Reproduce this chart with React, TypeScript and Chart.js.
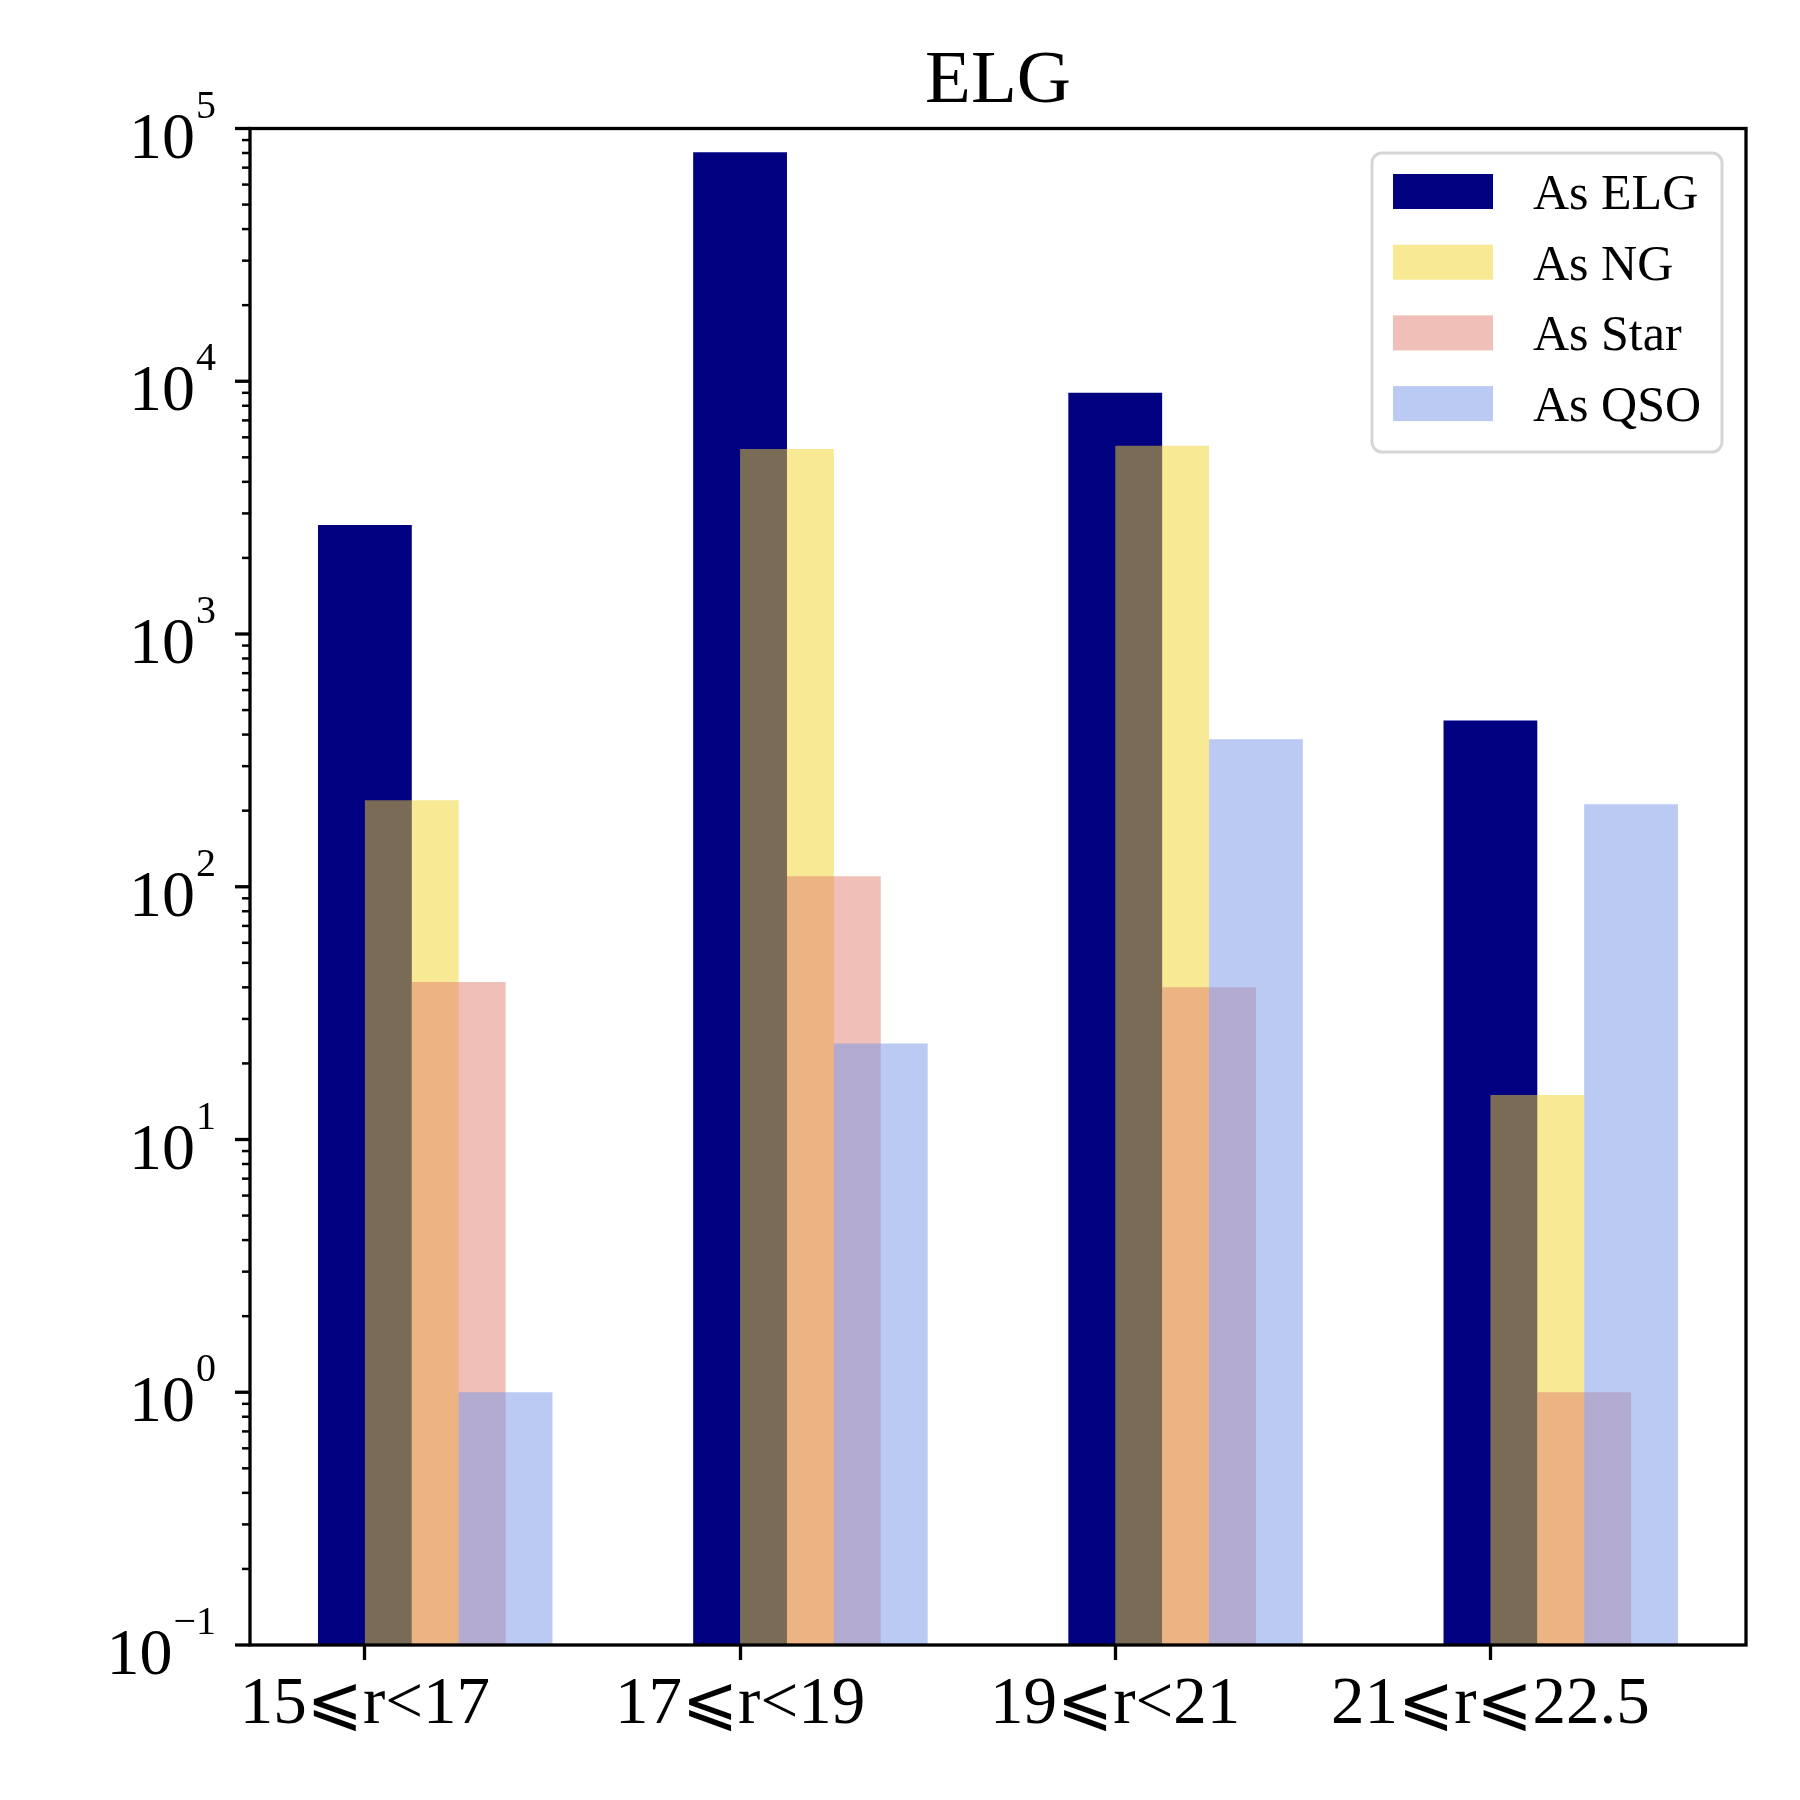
import { useEffect, useRef } from "react";
import { Chart, registerables } from "chart.js";

Chart.register(...registerables);

const CATEGORIES = ["15⩽r<17", "17⩽r<19", "19⩽r<21", "21⩽r⩽22.5"];
const SERIES_LABELS = ["As ELG", "As NG", "As Star", "As QSO"];
const AS_ELG = [2700, 80500, 9000, 455];
const AS_NG = [220, 5400, 5560, 15];
const AS_STAR = [42, 110, 40, 1];
const AS_QSO = [1, 24, 383, 212];
const Y_DECADES = [-1, 0, 1, 2, 3, 4, 5];

const COLORS = [
  "rgb(0, 0, 128)",
  "rgba(241, 214, 42, 0.5)",
  "rgba(223, 127, 113, 0.5)",
  "rgba(117, 149, 231, 0.5)",
];
const BAR_WIDTH = 0.25;
const SERIF =
  '"Liberation Serif", "Times New Roman", "DejaVu Serif", "DejaVu Sans", serif';

// matplotlib-like frame, log ticks with 10^n labels, and legend inside the axes
const mplAxes = {
  id: "mplAxes",
  afterDraw(chart: any) {
    const { ctx, chartArea: a } = chart;
    const y = chart.scales.y;
    const line = (x1: number, y1: number, x2: number, y2: number) => {
      ctx.beginPath();
      ctx.moveTo(x1, y1);
      ctx.lineTo(x2, y2);
      ctx.stroke();
    };
    ctx.save();
    ctx.strokeStyle = "#000";

    // minor ticks
    ctx.lineWidth = 2.5;
    for (let e = Y_DECADES[0]; e < Y_DECADES[Y_DECADES.length - 1]; e++) {
      for (let m = 2; m <= 9; m++) {
        const py = y.getPixelForValue(m * Math.pow(10, e));
        line(a.left - 8, py, a.left, py);
      }
    }
    // major ticks + labels
    ctx.lineWidth = 3.3;
    ctx.fillStyle = "#000";
    ctx.textBaseline = "alphabetic";
    ctx.textAlign = "right";
    Y_DECADES.forEach((e) => {
      const py = y.getPixelForValue(Math.pow(10, e));
      line(a.left - 15, py, a.left, py);
      const exp = e < 0 ? "\u2212" + Math.abs(e) : String(e);
      const right = a.left - 34;
      ctx.font = `40px ${SERIF}`;
      ctx.fillText(exp, right, py - 11);
      const w = ctx.measureText(exp).width;
      ctx.font = `66px ${SERIF}`;
      ctx.fillText("10", right - w - 1, py + 29);
    });

    // frame
    ctx.lineWidth = 3.3;
    ctx.strokeRect(a.left, a.top, a.right - a.left, a.bottom - a.top);

    // legend
    const lx = a.right - 374;
    const ly = a.top + 24.5;
    ctx.beginPath();
    ctx.roundRect(lx, ly, 350, 299, 10);
    ctx.fillStyle = "rgba(255,255,255,0.8)";
    ctx.fill();
    ctx.strokeStyle = "#d6d6d6";
    ctx.lineWidth = 3;
    ctx.stroke();
    ctx.font = `50px ${SERIF}`;
    ctx.textAlign = "left";
    chart.data.datasets.forEach((ds: any, i: number) => {
      const top = ly + 21 + i * 70.7;
      ctx.fillStyle = ds.backgroundColor;
      ctx.fillRect(lx + 21, top, 100, 35);
      ctx.fillStyle = "#000";
      ctx.fillText(ds.label, lx + 161, top + 35);
    });
    ctx.restore();
  },
};

export default function App() {
  const canvasRef = useRef<HTMLCanvasElement>(null);

  useEffect(() => {
    document.body.style.margin = "0";
    if (!canvasRef.current) return;

    const series = [AS_ELG, AS_NG, AS_STAR, AS_QSO];
    const lo = -BAR_WIDTH / 2;
    const hi = CATEGORIES.length - 1 + (series.length - 1) * (BAR_WIDTH / 2) + BAR_WIDTH / 2;
    const margin = 0.05 * (hi - lo);

    const chart = new Chart(canvasRef.current, {
      type: "bar",
      data: {
        datasets: series.map((values, k) => ({
          label: SERIES_LABELS[k],
          data: values.map((v, i) => ({ x: i + (k * BAR_WIDTH) / 2, y: v })),
          backgroundColor: COLORS[k],
          borderWidth: 0,
          grouped: false,
          barPercentage: 2,
          categoryPercentage: 1,
          order: series.length - k,
        })),
      },
      options: {
        responsive: true,
        maintainAspectRatio: false,
        animation: false,
        devicePixelRatio: 1,
        events: [],
        layout: { padding: { left: 0, right: 54, top: 0, bottom: 0 } },
        plugins: {
          legend: { display: false },
          tooltip: { enabled: false },
          title: {
            display: true,
            fullSize: false,
            text: "ELG",
            color: "#000",
            font: { family: SERIF, size: 75, weight: "normal", lineHeight: 1.2 },
            padding: { top: 37, bottom: 1.5 },
          },
        },
        scales: {
          x: {
            type: "linear",
            min: lo - margin,
            max: hi + margin,
            offset: false,
            afterBuildTicks: (s: any) => {
              s.ticks = CATEGORIES.map((_, i) => ({ value: i }));
            },
            afterFit: (s: any) => {
              s.height = 155;
            },
            ticks: {
              autoSkip: false,
              maxRotation: 0,
              minRotation: 0,
              padding: 5,
              color: "#000",
              font: { family: SERIF, size: 67 },
              callback: (v: any) => CATEGORIES[Math.round(Number(v))] ?? "",
            },
            grid: {
              display: true,
              drawOnChartArea: false,
              drawTicks: true,
              tickLength: 15,
              tickWidth: 3.3,
              tickColor: "#000",
              offset: false,
            },
            border: { display: false },
          },
          y: {
            type: "logarithmic",
            min: 0.1,
            max: 1e5,
            afterFit: (s: any) => {
              s.width = 250;
            },
            ticks: { display: false },
            grid: { display: false },
            border: { display: false },
          },
        },
      } as any,
      plugins: [mplAxes],
    });

    return () => {
      chart.destroy();
    };
  }, []);

  return (
    <div style={{ width: 1800, height: 1800, background: "#fff" }}>
      <canvas ref={canvasRef} />
    </div>
  );
}
